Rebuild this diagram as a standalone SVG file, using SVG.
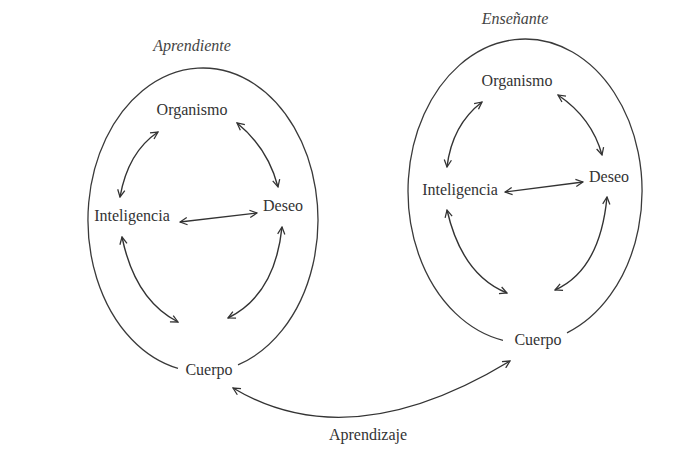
<svg xmlns="http://www.w3.org/2000/svg" width="693" height="468" viewBox="0 0 693 468">
<defs>
<style>
.t{font-family:"Liberation Serif","Times New Roman",serif;font-size:16px;fill:#333;text-anchor:middle}
.i{font-style:italic;fill:#444}
.e{fill:none;stroke:#3a3a3a;stroke-width:1.3}
.c{fill:none;stroke:#333;stroke-width:1.4;marker-start:url(#ah);marker-end:url(#ah)}
</style>
<marker id="ah" viewBox="0 0 10 10" refX="9" refY="5" markerWidth="9" markerHeight="9" markerUnits="userSpaceOnUse" orient="auto-start-reverse">
<path d="M1,1 L9,5 L1,9" fill="none" stroke="#333" stroke-width="1.4"/>
</marker>
</defs>
<rect width="693" height="468" fill="#fff"/>
<g id="aprendiente">
<path class="e" d="M238,364.8 A115,152 0 1 0 178,368.4"/>
<text class="t i" x="192" y="51">Aprendiente</text>
</g>
<g id="l-organismo"><text class="t" x="192" y="115">Organismo</text></g>
<g id="l-inteligencia"><text class="t" x="132" y="221">Inteligencia</text></g>
<g id="l-deseo"><text class="t" x="283" y="211">Deseo</text></g>
<g id="l-cuerpo"><text class="t" x="209" y="375">Cuerpo</text></g>
<g id="ensenante">
<path class="e" d="M567,332.9 A117,152 0 1 0 503,340.3"/>
<text class="t i" x="515" y="24">Enseñante</text>
</g>
<g id="r-organismo"><text class="t" x="517" y="86">Organismo</text></g>
<g id="r-inteligencia"><text class="t" x="460" y="195">Inteligencia</text></g>
<g id="r-deseo"><text class="t" x="609" y="182">Deseo</text></g>
<g id="r-cuerpo"><text class="t" x="538" y="345">Cuerpo</text></g>
<g id="aprendizaje-label"><text class="t" x="368" y="440">Aprendizaje</text></g>
<g id="connectors">
<path class="c" d="M158,132 Q128,152 120,197"/>
<path class="c" d="M237,123 Q268,148 278,187"/>
<path class="c" d="M180,222 L257,213"/>
<path class="c" d="M122,237 Q135,300 178,322"/>
<path class="c" d="M282,227 Q275,295 228,318"/>
<path class="c" d="M482,102 Q452,125 447,167"/>
<path class="c" d="M558,95 Q592,118 602,155"/>
<path class="c" d="M505,192 L583,182"/>
<path class="c" d="M447,210 Q462,275 507,293"/>
<path class="c" d="M607,197 Q600,270 555,290"/>
<path class="c" d="M233,388 Q350,458 510,361"/>
</g>
</svg>
